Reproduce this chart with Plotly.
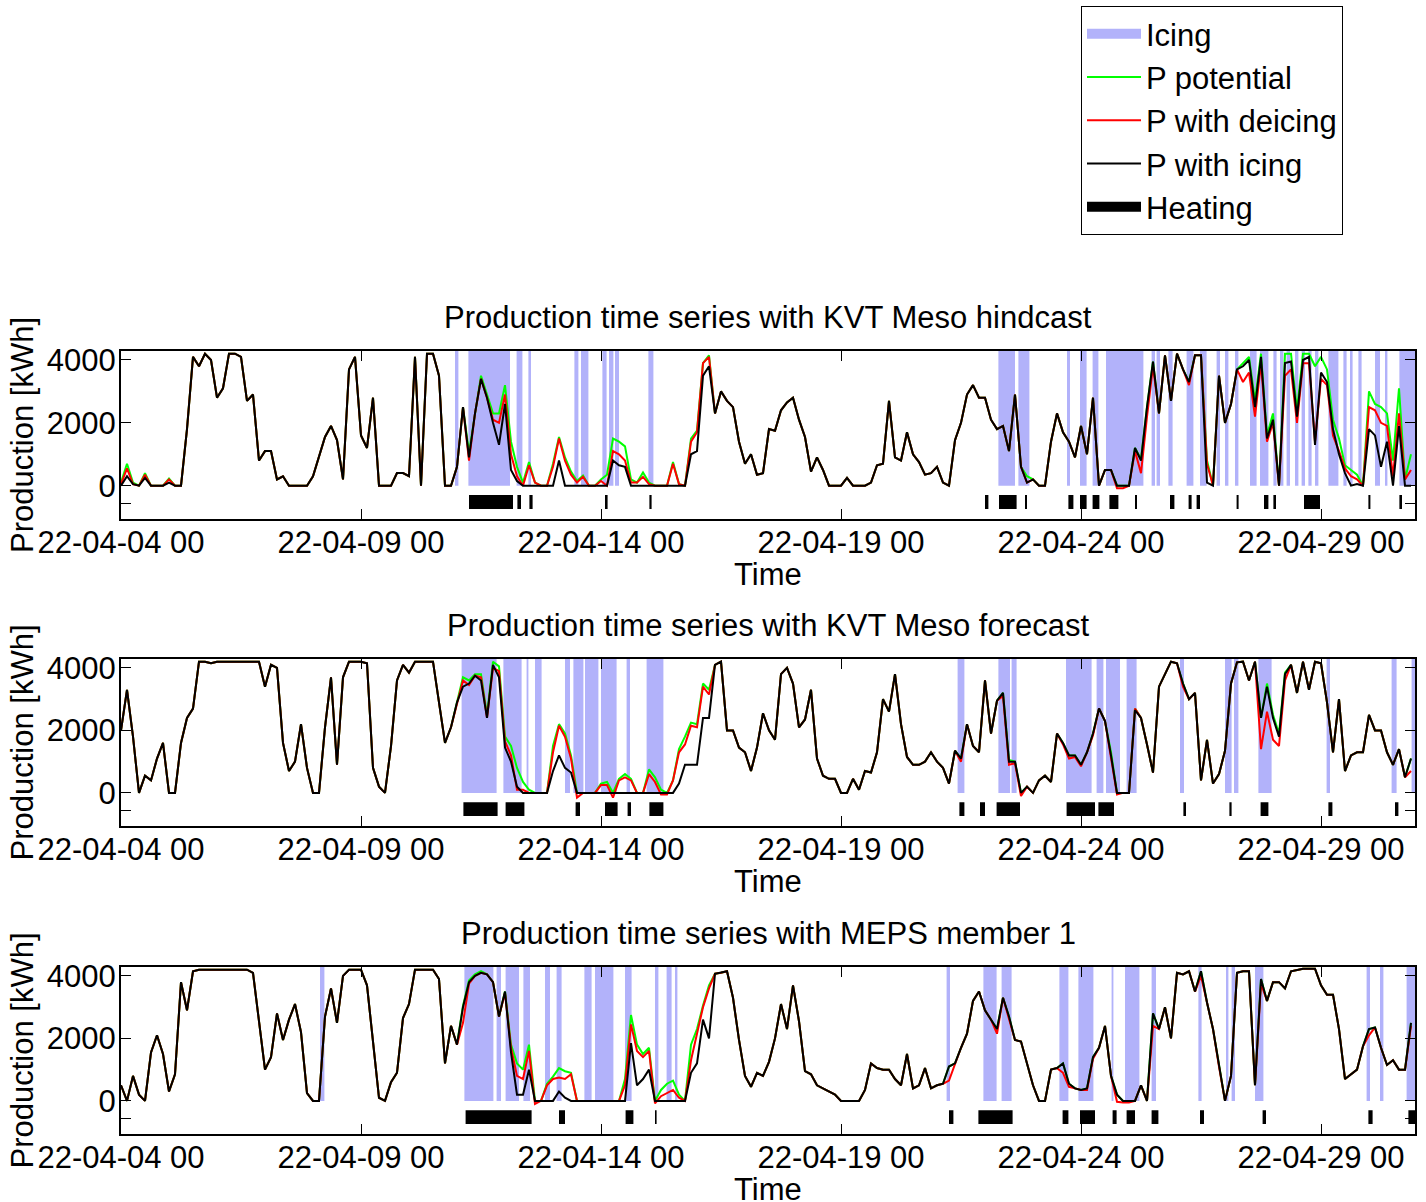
import pandas as pd
import plotly.graph_objects as go

# ---------------- data (3-hourly samples, hours since 2022-04-04 00:00) ----------------
START = "2022-04-04 00:00"
STEP_H = 3

P1_POT = [
    100, 700, 100, 0, 400, 0, 0, 0, 230, 0, 0, 1800,
    4100, 3800, 4200, 4000, 2800, 3100, 4200, 4200, 4100, 2700, 2900, 800,
    1100, 1100, 200, 300, 0, 0, 0, 0, 300, 900, 1550, 1900,
    1450, 200, 3700, 4100, 1600, 1200, 2800, 0, 0, 0, 400, 400,
    300, 4100, 0, 4200, 4200, 3500, 0, 0, 600, 2500, 1050, 2300,
    3500, 2900, 2300, 2300, 3200, 1400, 600, 100, 750, 100, 0, 0,
    700, 1550, 900, 450, 150, 320, 0, 0, 200, 350, 1500, 1400,
    1250, 200, 100, 420, 100, 0, 0, 0, 750, 50, 0, 1500,
    1750, 3900, 4150, 2300, 3000, 2700, 2500, 1400, 700, 1000, 350, 400,
    1800, 1750, 2400, 2650, 2800, 2100, 1550, 450, 900, 500, 0, 0,
    0, 250, 0, 0, 0, 100, 650, 700, 2700, 900, 800, 1700,
    1000, 750, 350, 400, 600, 100, 0, 1450, 2000, 2900, 3200, 2800,
    2800, 2100, 1800, 1900, 1100, 2900, 600, 300, 200, 0, 0, 1400,
    2300, 1700, 1400, 900, 1900, 1000, 2800, 0, 500, 500, 0, 0,
    0, 1200, 850, 2500, 3950, 2300, 4150, 2700, 4200, 3700, 3300, 4150,
    4150, 800, 0, 3500, 2000, 2600, 3700, 3900, 4100, 2700, 4200, 1600,
    2300, 0, 4200, 4200, 2400, 4200, 4200, 3800, 4100, 3700, 2100, 1500,
    650, 500, 350, 0, 3000, 2600, 2500, 2300, 800, 3100, 200, 1000,
]
P1_DEICE = {0: 50, 1: 550, 2: 50, 4: 350, 8: 200, 58: 800, 60: 3400, 61: 2800, 62: 2100,
            63: 2000, 64: 2900, 65: 1000, 66: 300, 67: 0, 68: 650, 69: 100, 72: 600,
            73: 1500, 74: 800, 75: 350, 76: 100, 77: 280, 80: 150, 81: 0, 82: 1100,
            83: 1000, 84: 800, 85: 100, 86: 100, 87: 280, 88: 50, 92: 700, 95: 1400,
            96: 1700, 98: 4100, 151: 100, 166: -80, 167: -80, 169: 1100, 170: 400,
            171: 2200, 172: 3800, 178: 3200, 181: 700, 187: 3300, 188: 3600, 189: 2200,
            190: 3900, 191: 1400, 192: 2000, 194: 3500, 195: 3700, 196: 2000, 197: 3900,
            198: 3900, 199: 1400, 200: 3400, 201: 3200, 202: 1600, 203: 1100, 204: 550,
            205: 300, 206: 200, 208: 2500, 209: 2400, 210: 2000, 211: 1900, 212: 300,
            213: 2300, 215: 500}
P1_ICE = {0: 0, 1: 300, 2: 50, 4: 250, 8: 100, 58: 900, 60: 3400, 61: 2800, 62: 2000,
          63: 1300, 64: 2600, 65: 500, 66: 150, 67: 0, 68: 0, 69: 0, 72: 0, 73: 800,
          74: 0, 75: 0, 76: 0, 77: 0, 80: 0, 81: 0, 82: 800, 83: 650, 84: 600, 85: 0,
          86: 0, 87: 0, 88: 0, 92: 0, 93: 0, 95: 1000, 96: 1100, 97: 3500, 98: 3800,
          151: 100, 170: 800, 181: 100, 187: 3800, 188: 4000, 189: 2500, 190: 4100,
          191: 1500, 192: 2100, 194: 3900, 195: 3950, 196: 2200, 197: 4000, 198: 4100,
          199: 1300, 200: 3600, 201: 3300, 202: 1800, 203: 1000, 204: 400, 205: 0,
          206: 50, 208: 1800, 209: 1600, 210: 600, 211: 1400, 212: 0, 213: 1900,
          214: 0, 215: 0}

P2_POT = [
    2000, 3300, 1800, 0, 550, 400, 1100, 1600, 0, 0, 1600, 2400,
    2700, 4200, 4200, 4150, 4200, 4200, 4200, 4200, 4200, 4200, 4200, 4200,
    3400, 4100, 4000, 1600, 700, 1000, 2200, 800, 0, 0, 2100, 3700,
    900, 3700, 4200, 4200, 4200, 4150, 800, 200, 0, 1500, 3600, 4100,
    3850, 4200, 4200, 4200, 4200, 2900, 1600, 2100, 2900, 3700, 3600, 3800,
    3800, 2500, 4200, 4050, 1800, 1500, 800, 350, 100, 0, 0, 0,
    1500, 2200, 1900, 1200, 0, 0, 0, 0, 300, 350, 0, 450,
    600, 450, 0, 0, 750, 500, 100, 0, 400, 1400, 1800, 2250,
    2200, 3500, 3300, 4100, 4200, 2000, 2000, 1450, 1300, 700, 1450, 2550,
    2000, 1700, 3800, 4000, 3500, 2100, 2350, 3300, 1100, 550, 450, 450,
    0, 0, 450, 100, 700, 650, 1300, 3000, 2600, 3800, 2200, 1150,
    900, 900, 1000, 1300, 1000, 800, 300, 1350, 1100, 2200, 1500, 1300,
    3600, 1900, 2950, 3200, 1050, 1000, 0, 200, 0, 400, 550, 350,
    1900, 1600, 1200, 1200, 900, 1300, 1900, 2700, 2300, 1300, 0, 0,
    0, 2700, 2400, 1550, 650, 3400, 3800, 4200, 4150, 3500, 3000, 3200,
    400, 1700, 300, 600, 1350, 3500, 4180, 4200, 3600, 4200, 2400, 3500,
    2500, 1900, 3850, 4100, 3200, 4200, 3300, 4200, 4150, 2900, 1300, 3000,
    700, 1200, 1300, 1300, 2500, 2000, 2000, 1300, 900, 1400, 500, 1100,
]
P2_DEICE = {57: 3600, 58: 3450, 59: 3750, 60: 3700, 61: 2400, 62: 4000, 63: 3900,
            64: 1650, 65: 1200, 66: 100, 67: 100, 68: 0, 72: 1300, 73: 2150, 74: 1800,
            75: 1100, 76: -150, 80: 250, 81: 250, 82: -150, 83: 400, 84: 500, 85: 400,
            88: 600, 89: 350, 90: -50, 91: -50, 93: 1300, 94: 1550, 95: 2150, 96: 2100,
            97: 3400, 98: 3150, 140: 1000, 147: 3100, 148: 900, 149: 950, 150: -100,
            157: 1550, 158: 1100, 159: 1150, 160: 850, 162: 1850, 165: 1150, 166: -50,
            177: 3400, 190: 1400, 191: 2600, 192: 1700, 193: 1500, 194: 3600, 215: 700}
P2_ICE = {57: 3400, 58: 3500, 59: 3750, 60: 3600, 61: 2400, 62: 4100, 63: 3700,
          64: 1450, 65: 1000, 66: 200, 67: 0, 68: 0, 72: 700, 73: 1200, 74: 800,
          75: 650, 80: 0, 81: 0, 83: 0, 84: 0, 85: 0, 88: 0, 89: 0, 90: 0, 92: 0,
          93: 300, 94: 900, 95: 900, 96: 900, 97: 2400, 98: 2400, 148: 1000,
          165: 1200, 169: 2650, 191: 3400, 192: 2400, 193: 1800, 194: 3800}

P3_POT = [
    500, 0, 800, 200, 0, 1550, 2100, 1500, 300, 850, 3800, 2900,
    4150, 4200, 4200, 4200, 4200, 4200, 4200, 4200, 4200, 4200, 4100, 2600,
    1000, 1400, 2800, 1950, 2600, 3100, 2200, 250, 0, 0, 2700, 3600,
    2500, 4000, 4200, 4200, 4200, 3700, 2000, 100, 0, 600, 900, 2650,
    3100, 4200, 4200, 4200, 4200, 3900, 1200, 2400, 1800, 3050, 3850, 4050,
    4150, 4050, 3800, 2700, 3500, 1800, 1200, 1000, 1800, 0, 0, 550,
    780, 1050, 950, 900, 0, 0, 0, 0, 0, 0, 0, 0,
    700, 2750, 1800, 1500, 1700, 0, 350, 550, 650, 200, 0, 1800,
    2300, 3050, 3700, 4070, 4100, 4150, 3300, 1950, 800, 450, 900, 800,
    1250, 2000, 3100, 2300, 3700, 2550, 950, 850, 500, 400, 280, 200,
    0, 0, 0, 0, 350, 1200, 1050, 1000, 1000, 700, 500, 1500,
    400, 500, 1050, 400, 500, 550, 1100, 1200, 1700, 2150, 3200, 3500,
    2900, 2600, 2300, 3300, 2700, 1950, 1900, 1200, 500, 0, 0, 1000,
    1050, 1200, 550, 400, 350, 400, 1400, 1700, 2400, 800, 200, 0,
    0, 0, 500, 0, 2800, 2300, 3000, 2000, 4100, 4050, 4150, 3500,
    4150, 3150, 2300, 1100, 0, 800, 4100, 4150, 4150, 500, 3900, 3200,
    3800, 3800, 3600, 4150, 4200, 4230, 4230, 4230, 3700, 3400, 3400, 2300,
    700, 850, 1000, 1750, 2300, 2350, 1700, 1150, 1300, 1000, 1000, 2500,
]
P3_DEICE = {57: 2500, 58: 3750, 59: 4000, 60: 4100, 64: 3450, 65: 1700, 66: 800,
            67: 700, 68: 1600, 69: -100, 71: 500, 72: 700, 73: 750, 74: 700, 75: 850,
            84: 500, 85: 2450, 86: 1600, 87: 1400, 88: 1600, 89: -80, 90: 150, 91: 250,
            92: 350, 93: 100, 95: 1300, 96: 2200, 97: 3000, 98: 3600, 138: 650,
            146: 2150, 148: 2600, 157: 900, 158: 450, 161: 350, 162: 1350, 166: -30,
            167: -50, 168: -50, 172: 2400, 180: 4000, 190: 3750, 208: 2100, 215: 2400}
P3_ICE = {57: 3000, 58: 3800, 59: 4000, 60: 4100, 65: 1550, 66: 200, 67: 200,
          68: 1000, 71: 0, 72: 0, 73: 300, 74: 100, 75: 0, 84: 0, 85: 1850, 86: 500,
          87: 700, 88: 1000, 90: 0, 91: 0, 92: 0, 93: 0, 95: 900, 96: 1200, 97: 2600,
          98: 2000}

# icing / heating periods: [start hour, end hour]
P1_ICING = [[167, 168.7], [173.7, 194.5], [197.8, 200.7], [203.7, 205], [226.7, 228.7],
            [230, 233.7], [240.7, 242.8], [244, 246.2], [247, 249], [263.7, 266.2],
            [438.7, 447], [448.7, 454.2], [473, 474.5], [479.5, 482.8], [485.8, 488.7],
            [492.5, 511.2], [515.3, 517], [517.8, 519.5], [523.7, 525.8], [532.8, 536.2],
            [539.5, 542.8], [547.8, 549.5], [552, 553.7], [557, 558.7], [564.5, 567.8],
            [569.5, 573.7], [576.2, 577.8], [579.5, 581.2], [582.8, 584.5], [587, 588.7],
            [590.3, 592], [593.7, 595.3], [597, 598.7], [603.7, 608.7], [611.2, 612.8],
            [614.5, 615.8], [618.7, 620.3], [627, 629.5], [632, 633.2], [639.2, 647]]
P2_ICING = [[170.3, 187.8], [191.2, 200.3], [202.8, 203.7], [207, 210.3], [222, 224.5],
            [226.2, 231.2], [232, 238.7], [240, 247.8], [252.8, 254.5], [262.8, 271.2],
            [418.3, 421.7], [438.7, 444.5], [445.3, 447.8], [472.5, 485.3], [487.8, 491.2],
            [492.5, 499.5], [502.8, 507.8], [529.5, 531.5], [552, 555.3], [556.5, 558.7],
            [568.7, 575.3], [602.8, 604.5], [635.3, 637.8], [645.3, 647]]
P3_ICING = [[99.5, 101.7], [171.7, 186.2], [187.8, 190], [192.3, 199], [201.2, 204.5],
            [212, 214.5], [217.8, 220.3], [231.7, 235.3], [237, 246.2], [252, 255.3],
            [267, 268.7], [272.8, 275.3], [277, 278.2], [412.8, 414.5], [431.2, 437.8],
            [440.3, 445.3], [469.2, 473.7], [478.7, 486.2], [495.3, 496.2], [502, 509.2],
            [515.3, 517.5], [538.7, 540.3], [552.5, 553.7], [555.3, 557], [567, 571.2],
            [622.8, 624.5], [629.5, 631.2], [642.8, 647]]

P1_HEAT = [[174, 196], [198.2, 200], [204.2, 205.8], [242, 243.3], [264.2, 265.3],
           [432, 433.7], [439, 447.8], [452, 453], [473.7, 476.2], [479.5, 482.8],
           [485.8, 489.2], [494.2, 498.7], [507, 508], [524.5, 526.7], [533.8, 535.3],
           [537.8, 539.5], [557.8, 558.8], [571.5, 573.7], [576.2, 577.5], [591.5, 599.5],
           [623.7, 624.7], [639.2, 640.5]]
P2_HEAT = [[171.2, 188.3], [192.3, 201.7], [227.3, 229.5], [242, 248.3], [253.3, 255],
           [264.2, 271.2], [419.2, 421.7], [429.5, 432], [437.8, 449.5], [472.8, 487],
           [488.7, 496.5], [531.2, 532.5], [554.2, 555.3], [569.8, 573.7], [603.7, 605.7],
           [637, 638.7]]
P3_HEAT = [[172.3, 205.3], [219, 222], [252.3, 256.2], [267, 267.8], [414, 416.2],
           [428.7, 445.8], [470.8, 473.7], [479.5, 487], [495.8, 497.8], [502.8, 507],
           [515.3, 518.7], [539.5, 541.5], [570.8, 572.5], [623.7, 625.8], [643.7, 647]]

TITLES = ["Production time series with KVT Meso hindcast",
          "Production time series with KVT Meso forecast",
          "Production time series with MEPS member 1"]

# ---------------- helpers ----------------
t0 = pd.Timestamp(START)


def ts(h):
    return (t0 + pd.Timedelta(hours=h)).strftime("%Y-%m-%d %H:%M:%S")


def with_overrides(base, over):
    arr = list(base)
    for k, v in over.items():
        arr[k] = v
    return arr


def rect_poly(intervals, lo, hi):
    xs, ys = [], []
    for a, b in intervals:
        xs += [ts(a), ts(b), ts(b), ts(a), ts(a), None]
        ys += [lo, lo, hi, hi, lo, None]
    return xs, ys


YMIN, YMAX = -1060, 4286
HEAT_LO, HEAT_HI = -740, -300
ICE_COLOR = "rgb(178,178,250)"
FONT = "Liberation Sans, Arial, Helvetica, sans-serif"
FS = 31

panels = [
    (P1_POT, P1_DEICE, P1_ICE, P1_ICING, P1_HEAT),
    (P2_POT, P2_DEICE, P2_ICE, P2_ICING, P2_HEAT),
    (P3_POT, P3_DEICE, P3_ICE, P3_ICING, P3_HEAT),
]
# axis pixel extents (top, bottom) in a 1202 px tall page
ypix = [(351, 519), (659, 826), (967, 1134)]
H = 1202.0
W_PLOT = 1294.0

fig = go.Figure()
for p, (pot, dei, ice, icing, heat) in enumerate(panels):
    assert len(pot) == 216, (p, len(pot))
    xa = "x" if p == 0 else f"x{p + 1}"
    ya = "y" if p == 0 else f"y{p + 1}"
    first = p == 0
    times = [ts(STEP_H * i) for i in range(len(pot))]
    pdei = with_overrides(pot, dei)
    pice = with_overrides(pot, ice)

    ix, iy = rect_poly(icing, 0, YMAX)
    fig.add_trace(go.Scatter(x=ix, y=iy, fill="toself", fillcolor=ICE_COLOR, mode="none",
                             name="Icing", showlegend=False,
                             xaxis=xa, yaxis=ya, hoverinfo="skip"))
    hx, hy = rect_poly(heat, HEAT_LO, HEAT_HI)
    fig.add_trace(go.Scatter(x=hx, y=hy, fill="toself", fillcolor="black", mode="none",
                             name="Heating", showlegend=False,
                             xaxis=xa, yaxis=ya, hoverinfo="skip"))
    fig.add_trace(go.Scatter(x=times, y=pot, mode="lines", line=dict(color="#00ff00", width=2),
                             name="P potential", showlegend=first, legendrank=2,
                             xaxis=xa, yaxis=ya))
    fig.add_trace(go.Scatter(x=times, y=pdei, mode="lines", line=dict(color="#ff0000", width=2),
                             name="P with deicing", showlegend=first, legendrank=3,
                             xaxis=xa, yaxis=ya))
    fig.add_trace(go.Scatter(x=times, y=pice, mode="lines", line=dict(color="black", width=2),
                             name="P with icing", showlegend=first, legendrank=4,
                             xaxis=xa, yaxis=ya))

# legend-only entries: icing (lavender block) and heating (thick black bar)
fig.add_trace(go.Scatter(x=[None], y=[None], mode="lines", line=dict(color=ICE_COLOR, width=30),
                         name="Icing", showlegend=True, legendrank=1))
fig.add_trace(go.Scatter(x=[None], y=[None], mode="lines", line=dict(color="black", width=10),
                         name="Heating", showlegend=True, legendrank=5))

axis_common = dict(showline=True, linecolor="black", linewidth=2, mirror="ticks",
                   ticks="inside", ticklen=10, tickwidth=1, tickcolor="black",
                   showgrid=False, zeroline=False, automargin=False,
                   tickfont=dict(family=FONT, size=FS, color="black"))

layout = dict(
    width=1426, height=1202, template="none",
    margin=dict(l=121, r=11, t=0, b=0),
    paper_bgcolor="white", plot_bgcolor="white",
    font=dict(family=FONT, size=FS, color="black"),
    showlegend=True,
    legend=dict(x=(1081 - 121) / W_PLOT, y=1 - 6 / H, xanchor="left", yanchor="top",
                bgcolor="white", bordercolor="black", borderwidth=1,
                font=dict(family=FONT, size=FS, color="black"),
                tracegroupgap=0, itemwidth=54, traceorder="normal",
                entrywidth=240, entrywidthmode="pixels"),
    annotations=[],
)
for p in range(3):
    top, bot = ypix[p]
    sx = "" if p == 0 else str(p + 1)
    layout[f"xaxis{sx}"] = dict(axis_common, domain=[0, 1], anchor=f"y{sx}", type="date",
                                range=[ts(0), ts(647)], tick0=ts(0), dtick=5 * 86400000,
                                tickformat="%y-%m-%d %H", ticklabelstandoff=-5)
    layout[f"yaxis{sx}"] = dict(axis_common, domain=[1 - bot / H, 1 - top / H], anchor=f"x{sx}",
                                range=[YMIN, YMAX], tickmode="array",
                                tickvals=[-560, 0, 2000, 4000], ticktext=["", "0", "2000", "4000"],
                                ticklabelstandoff=-3)
    layout["annotations"] += [
        dict(text=TITLES[p], xref="paper", yref="paper", x=0.5, y=1 - (top - 34) / H,
             xanchor="center", yanchor="middle", showarrow=False,
             font=dict(family=FONT, size=FS, color="black")),
        dict(text="Time", xref="paper", yref="paper", x=0.5, y=1 - (bot + 55) / H,
             xanchor="center", yanchor="middle", showarrow=False,
             font=dict(family=FONT, size=FS, color="black")),
        dict(text="Production [kWh]", xref="paper", yref="paper", x=(22 - 121) / W_PLOT,
             y=1 - ((top + bot) / 2) / H, xanchor="center", yanchor="middle",
             textangle=-90, showarrow=False,
             font=dict(family=FONT, size=FS, color="black")),
    ]

fig.update_layout(**layout)
fig.write_html("out.html")
